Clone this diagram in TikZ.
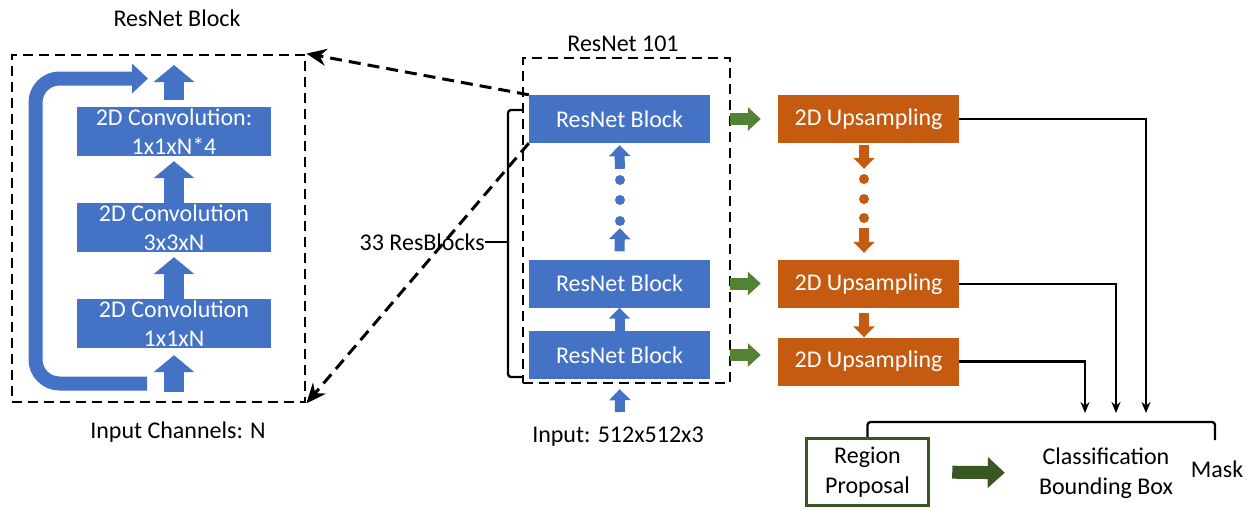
\documentclass[tikz,border=0pt]{standalone}
\usepackage{fontspec}
\setmainfont{Carlito}
\usetikzlibrary{arrows.meta}
\definecolor{resblue}{HTML}{4472C4}
\definecolor{uporange}{HTML}{C55A11}
\definecolor{featgreen}{HTML}{548235}
\definecolor{propgreen}{HTML}{385723}

\begin{document}
\begin{tikzpicture}[x=1pt, y=-1pt,
    txt/.style={font=\fontsize{24}{29.5}\selectfont, align=center, inner sep=0pt},
    conv/.style={txt, fill=resblue, text=white, minimum width=194pt, minimum height=49pt},
    resblock/.style={txt, fill=resblue, text=white, minimum width=181pt, minimum height=48pt},
    upblock/.style={txt, fill=uporange, text=white, minimum width=181pt, minimum height=48pt},
    frame/.style={draw, dash pattern=on 10pt off 6pt, line width=2.8pt, inner sep=0pt},
    zoomarrow/.style={dash pattern=on 12pt off 7pt, line width=3pt, -{Stealth[length=20pt,width=17pt]}},
    bigup/.style={draw=resblue, line width=20pt, -{Triangle[length=17pt,width=40pt]}},
    smallup/.style={draw=resblue, line width=10pt, -{Triangle[length=11pt,width=21pt]}},
    smalldown/.style={draw=uporange, line width=10pt, -{Triangle[length=11pt,width=21pt]}},
    featarrow/.style={draw=featgreen, line width=12pt, shorten <=20pt, shorten >=17pt, -{Triangle[length=13pt,width=23pt]}},
    bdot/.style={circle, fill=resblue, inner sep=0pt, minimum size=10pt},
    odot/.style={circle, fill=uporange, inner sep=0pt, minimum size=10pt},
    outline/.style={line width=2.3pt, -{Stealth[length=11pt,width=9pt]}}]
    \useasboundingbox (0,0) rectangle (1254,509);

    % ResNet block (zoomed)
    \node[txt] (blocktitle) at (177,18) {ResNet Block};
    \node[frame, minimum width=293pt, minimum height=347pt] (blockframe) at (158.5,228.5) {};
    \node[conv] (conv1) at (174,131.5) {2D Convolution:\\1x1xN*4};
    \node[conv] (conv2) at (174,227.5) {2D Convolution\\3x3xN};
    \node[conv] (conv3) at (174,323.5) {2D Convolution\\1x1xN};
    \node[txt] (channels) at (178,432) {Input Channels: N};

    \coordinate (inN) at (174,392);
    \coordinate (outN) at (174,65);
    \draw[bigup, shorten >=7pt] (inN) -- (conv3.south);
    \draw[bigup, shorten >=5pt] (conv3.north) -- (conv2.south);
    \draw[bigup, shorten >=5pt] (conv2.north) -- (conv1.south);
    \draw[bigup, shorten <=7pt] (conv1.north) -- (outN);

    % skip connection
    \coordinate (skipin) at (147,383.5);
    \coordinate (skipout) at (148,78.5);
    \draw[draw=resblue, line width=14pt, rounded corners=24pt, -{Triangle[length=16pt,width=29pt]}]
        (skipin) -- (35.5,383.5) -- (35.5,78.5) -- (skipout);

    % ResNet 101
    \node[txt] (nettitle) at (623,44) {ResNet 101};
    \node[frame, minimum width=207pt, minimum height=325pt] (netframe) at (626.5,220.5) {};
    \node[resblock] (rb1) at (619.5,119) {ResNet Block};
    \node[resblock] (rb2) at (619.5,283.5) {ResNet Block};
    \node[resblock] (rb3) at (619.5,355) {ResNet Block};
    \foreach \y [count=\i] in {180,200,221}
        \node[bdot] (bd\i) at (620,\y) {};
    \draw[smallup, shorten <=6pt, shorten >=2pt] (bd1) -- (rb1.south);
    \draw[smallup, shorten <=8pt, shorten >=2pt] (rb2.north) -- (bd3);
    \draw[smallup] (rb3.north) -- (rb2.south);
    \node[txt] (input) at (618,437) {Input: 512x512x3};
    \coordinate (inbase) at (620,412);
    \draw[smallup, shorten >=10pt] (inbase) -- (rb3.south);

    % bracket over the blocks
    \coordinate (brtop) at (522,110);
    \coordinate (brbot) at (522,377);
    \coordinate (brmid) at (508,242);
    \node[txt, anchor=east] (count) at (485,242) {33 ResBlocks};
    \draw[line width=2.3pt, rounded corners=3pt] (brtop) -- (508,110) -- (508,377) -- (brbot);
    \draw[line width=2.3pt] (brmid) -- (count.east);

    % zoom lines
    \draw[zoomarrow] (rb1.north west) -- (blockframe.north east);
    \draw[zoomarrow] (rb1.south west) -- (blockframe.south east);

    % upsampling path
    \node[upblock] (up1) at (868.5,119) {2D Upsampling};
    \node[upblock] (up2) at (868.5,284) {2D Upsampling};
    \node[upblock] (up3) at (868.5,361.5) {2D Upsampling};
    \foreach \y [count=\i] in {179,199,218}
        \node[odot] (od\i) at (864,\y) {};
    \draw[smalldown, shorten <=2pt, shorten >=5pt] (up1.south -| od1) -- (od1);
    \draw[smalldown, shorten <=5pt, shorten >=7pt] (od3) -- (up2.north -| od3);
    \draw[smalldown, shorten <=5pt] (up2.south -| od3) -- (up3.north -| od3);

    \draw[featarrow] (rb1.east) -- (up1.west);
    \draw[featarrow] (rb2.east) -- (rb2.east -| up2.west);
    \draw[featarrow] (rb3.east) -- (rb3.east -| up3.west);

    % heads
    \node[txt, draw=propgreen, line width=3.5pt, minimum width=122pt, minimum height=67pt] (region) at (867.5,472) {Region\\Proposal};
    \node[txt] (cls) at (1106,473) {Classification\\Bounding Box};
    \node[txt] (mask) at (1217,469) {Mask};
    \draw[draw=propgreen, line width=13pt, shorten <=22pt, shorten >=34pt, -{Triangle[length=17pt,width=30pt]}]
        (region.east) -- (cls.west);

    \coordinate (m1) at (1146,413);
    \coordinate (m2) at (1116,413);
    \coordinate (m3) at (1085,413);
    \draw[outline] (up1.east) -| (m1);
    \draw[outline] (up2.east) -| (m2);
    \draw[outline] (up3.east) -| (m3);

    \coordinate (brr) at (1215,440);
    \draw[line width=2.3pt, rounded corners=3pt] (region.north) -- (867.5,422) -- (1215,422) -- (brr);
\end{tikzpicture}
\end{document}
